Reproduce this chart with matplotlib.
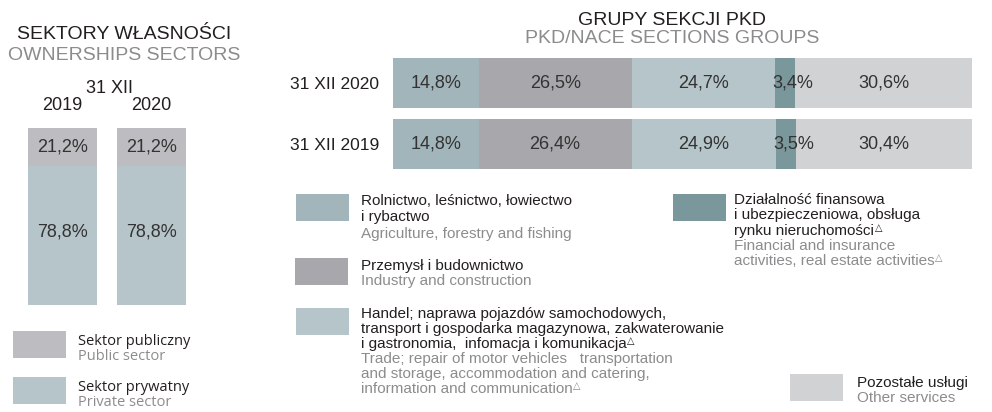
import matplotlib.pyplot as plt
from matplotlib.patches import Rectangle
import numpy as np

plt.rcParams['font.family'] = ['Liberation Sans', 'DejaVu Sans']

# ownership sectors (left panel)
own_years = ['2019', '2020']
own_public = [21.2, 21.2]
own_private = [78.8, 78.8]

# PKD/NACE section groups (right panel), bottom row first
pkd_rows = ['31 XII 2019', '31 XII 2020']
pkd_groups = ['agri', 'industry', 'trade', 'finance', 'other']
pkd_values = {
    'agri':     [14.8, 14.8],
    'industry': [26.4, 26.5],
    'trade':    [24.9, 24.7],
    'finance':  [3.5, 3.4],
    'other':    [30.4, 30.6],
}

col = {'agri': '#a2b5ba', 'industry': '#a8a8ac', 'trade': '#b6c5ca',
       'finance': '#7a979b', 'other': '#d1d2d4',
       'public': '#bdbdc1', 'private': '#b6c5ca'}
DARK = '#231f20'
GREY = '#8c8c8e'
TXT = '#333333'

W, H = 992, 412
fig = plt.figure(figsize=(W / 100, H / 100), dpi=100)


def px_axes(x0, y0, x1, y1):
    return fig.add_axes([x0 / W, 1 - y1 / H, (x1 - x0) / W, (y1 - y0) / H])


def fmt(v):
    return f"{v:.1f}%".replace('.', ',')


# overlay in pixel coords for titles and legends
ov = fig.add_axes([0, 0, 1, 1])
ov.set_xlim(0, W)
ov.set_ylim(H, 0)
ov.axis('off')

# ---- left panel
ax1 = px_axes(28, 128, 186, 305)
x = np.arange(len(own_years))
ax1.bar(x, own_private, width=0.775, color=col['private'])
ax1.bar(x, own_public, bottom=own_private, width=0.775, color=col['public'])
for i in x:
    ax1.text(i, own_private[i] / 2 + 2, fmt(own_private[i]), ha='center', va='center',
             fontsize=13, color=TXT)
    ax1.text(i, own_private[i] + own_public[i] / 2, fmt(own_public[i]),
             ha='center', va='center', fontsize=13, color=TXT)
ax1.set_xlim(-0.3876, 1.3876)
ax1.set_ylim(0, 100)
ax1.set_xticks(x)
ax1.set_xticklabels(own_years, fontsize=13, color=DARK)
ax1.xaxis.tick_top()
ax1.tick_params(axis='x', length=0, pad=10)
ax1.set_yticks([])
for s in ax1.spines.values():
    s.set_visible(False)

ov.text(124, 39, 'SEKTORY WŁASNOŚCI', ha='center', va='baseline', fontsize=14, color=DARK)
ov.text(124, 60, 'OWNERSHIPS SECTORS', ha='center', va='baseline', fontsize=14, color=GREY)
ov.text(109, 93, '31 XII', ha='center', va='baseline', fontsize=13, color=DARK)

# left legend
for y0, key, pl, en in [(331, 'public', 'Sektor publiczny', 'Public sector'),
                        (377, 'private', 'Sektor prywatny', 'Private sector')]:
    ov.add_patch(Rectangle((13, y0), 53, 27, color=col[key], lw=0))
    ov.text(78, y0 + 14, pl, va='baseline', fontsize=10.5, color=DARK, family='Open Sans')
    ov.text(78, y0 + 29, en, va='baseline', fontsize=10.5, color=GREY, family='Open Sans')

# ---- right panel
ax2 = px_axes(393, 58, 972, 169)
y = np.arange(len(pkd_rows))
left = np.zeros(len(pkd_rows))
for g in pkd_groups:
    vals = np.array(pkd_values[g])
    ax2.barh(y, vals, left=left, height=0.82, color=col[g])
    for j in y:
        dx = 1.4 if g == 'finance' else 0
        ax2.text(left[j] + vals[j] / 2 + dx, j, fmt(vals[j]), ha='center', va='center',
                 fontsize=13, color=TXT)
    left += vals
ax2.set_xlim(0, 100)
ax2.set_ylim(-0.41, 1.41)
ax2.set_yticks(y)
ax2.set_yticklabels(pkd_rows, fontsize=12.5, color=DARK)
ax2.tick_params(axis='y', length=0, pad=10)
ax2.set_xticks([])
for s in ax2.spines.values():
    s.set_visible(False)

ov.text(672, 25, 'GRUPY SEKCJI PKD', ha='center', va='baseline', fontsize=14, color=DARK)
ov.text(672, 43, 'PKD/NACE SECTIONS GROUPS', ha='center', va='baseline', fontsize=14, color=GREY)

# right legend; lines ending with '^' get a small triangle mark
legend_items = [
    ('agri', 296, 194, 361, [205, 221, 238],
     ['Rolnictwo, leśnictwo, łowiectwo', 'i rybactwo'],
     ['Agriculture, forestry and fishing']),
    ('industry', 295, 258, 361, [270, 285],
     ['Przemysł i budownictwo'],
     ['Industry and construction']),
    ('trade', 296, 308, 361, [318, 333, 348, 363, 378, 393],
     ['Handel; naprawa pojazdów samochodowych,',
      'transport i gospodarka magazynowa, zakwaterowanie',
      'i gastronomia,  infomacja i komunikacja^'],
     ['Trade; repair of motor vehicles   transportation',
      'and storage, accommodation and catering,',
      'information and communication^']),
    ('finance', 673, 194, 734, [204, 219, 235, 250, 265],
     ['Działalność finansowa', 'i ubezpieczeniowa, obsługa',
      'rynku nieruchomości^'],
     ['Financial and insurance', 'activities, real estate activities^']),
    ('other', 790, 374, 857, [387, 402],
     ['Pozostałe usługi'],
     ['Other services']),
]
for key, px, py, tx, bases, pl, en in legend_items:
    ov.add_patch(Rectangle((px, py), 53, 27, color=col[key], lw=0))
    for line, b in zip(pl + en, bases):
        c = DARK if line in pl else GREY
        t = ov.text(tx, b, line.rstrip('^'), va='baseline', fontsize=11, color=c)
        if line.endswith('^'):
            ov.annotate('△', xy=(1, 1), xycoords=t, xytext=(0.5, 1),
                        textcoords='offset points', ha='left', va='top',
                        fontsize=7, color=c, family='DejaVu Sans')

fig.savefig('out.png', dpi=100)
